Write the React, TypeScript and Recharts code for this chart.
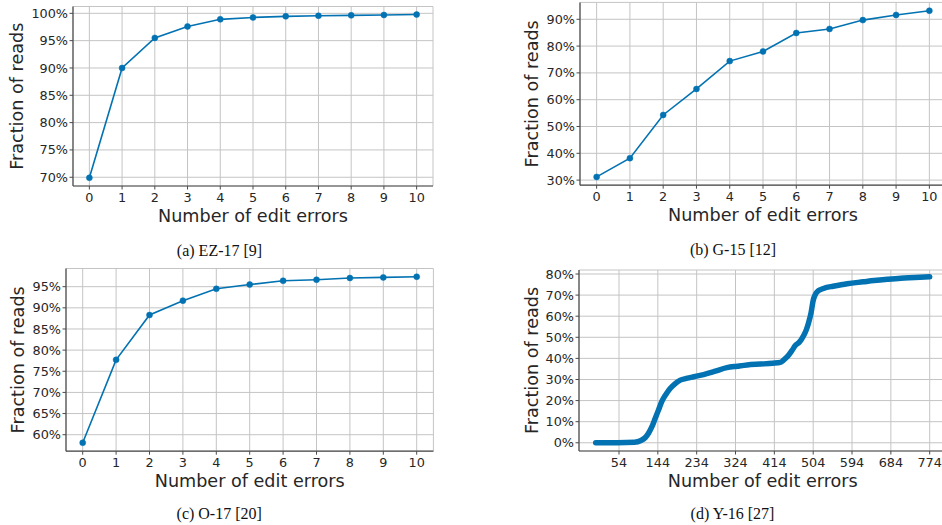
import { LineChart, Line, XAxis, YAxis, CartesianGrid, Label } from 'recharts'

// reads within k edit errors, per dataset (percent)
const editErrors = [0, 1, 2, 3, 4, 5, 6, 7, 8, 9, 10]
const ez17 = [69.9, 90.0, 95.5, 97.6, 98.9, 99.25, 99.45, 99.55, 99.63, 99.7, 99.78]
const g15 = [31.2, 38.2, 54.3, 64.0, 74.4, 78.0, 84.9, 86.4, 89.7, 91.6, 93.2]
const o17 = [58.1, 77.7, 88.3, 91.7, 94.5, 95.5, 96.4, 96.65, 97.05, 97.2, 97.35]

// Y-16 is a long cumulative curve, sampled along its length
const y16Errors = [
  0, 50, 90, 105, 115, 122, 130, 138, 146, 153, 163, 173, 185, 196, 210, 227, 250, 275,
  304, 328, 351, 382, 410, 428, 436, 444, 455, 463, 472, 482, 488, 494, 499, 504, 509,
  514, 522, 533, 550, 583, 620, 645, 676, 707, 740, 774,
]
const y16Fraction = [
  0, 0, 0.2, 1.1, 2.5, 4.4, 7.5, 11.6, 15.8, 19.5, 23.0, 25.8, 28.2, 29.7, 30.5, 31.3, 32.3, 33.8,
  35.6, 36.3, 36.9, 37.3, 37.7, 38.1, 39.3, 40.8, 43.8, 46.2, 47.7, 50.8, 53.5, 57.4, 61.5, 67.5, 70.3,
  71.7, 72.7, 73.5, 74.2, 75.4, 76.3, 76.9, 77.5, 78.0, 78.3, 78.7,
]

const ticksEZ = [70, 75, 80, 85, 90, 95, 100]
const ticksG = [30, 40, 50, 60, 70, 80, 90]
const ticksO = [60, 65, 70, 75, 80, 85, 90, 95]
const ticksY = [0, 10, 20, 30, 40, 50, 60, 70, 80]
const y16XTicks = [54, 144, 234, 324, 414, 504, 594, 684, 774]

const BLUE = '#0272b2'
const INK = '#262626'
const SPINE = '#4a4a4a'
const GRID = '#c4c4c4'
const SANS = '"DejaVu Sans", sans-serif'

type Row = { x: number; y: number }
const zip = (xs: number[], ys: number[]): Row[] => xs.map((x, i) => ({ x, y: ys[i] }))

type PanelProps = {
  rows: Row[]
  left: number; top: number; width: number; height: number
  plot: { l: number; t: number; r: number; b: number } // local plot box
  xDomain: [number, number]; xTicks: number[]
  yDomain: [number, number]; yTicks: number[]
  titleX: number
  thick?: boolean
}

function Panel(p: PanelProps) {
  const tick = { fill: INK, fontSize: 12.8, fontFamily: SANS }
  const yTitle = (props: any) => {
    const vb = props.viewBox
    const cy = vb.y + vb.height / 2
    return (
      <text x={p.titleX} y={cy} transform={`rotate(-90 ${p.titleX} ${cy})`} textAnchor="middle"
        dy="0.36em" fontSize={17.6} fontFamily={SANS} fill={INK}>Fraction of reads</text>
    )
  }
  const xTitle = (props: any) => {
    const vb = props.viewBox
    return (
      <text x={vb.x + vb.width / 2} y={p.plot.b + 35.5} textAnchor="middle"
        fontSize={17.6} fontFamily={SANS} fill={INK}>Number of edit errors</text>
    )
  }
  return (
    <div style={{ position: 'absolute', left: p.left, top: p.top }}>
      <LineChart width={p.width} height={p.height} data={p.rows}
        margin={{ top: p.plot.t, right: p.width - p.plot.r, bottom: 0, left: 0 }}>
        <CartesianGrid stroke={GRID} strokeWidth={1} />
        <XAxis dataKey="x" type="number" domain={p.xDomain} ticks={p.xTicks} interval={0}
          height={p.height - p.plot.b} tick={tick} tickSize={3.5} tickMargin={3.5}
          axisLine={{ stroke: SPINE, strokeWidth: 1.2 }} tickLine={{ stroke: SPINE }}>
          <Label content={xTitle} />
        </XAxis>
        <YAxis type="number" domain={p.yDomain} ticks={p.yTicks} interval={0}
          width={p.plot.l} tick={tick} tickSize={3.5} tickMargin={1.5}
          tickFormatter={(v: number) => `${v}%`}
          axisLine={{ stroke: SPINE, strokeWidth: 1.2 }} tickLine={{ stroke: SPINE }}>
          <Label content={yTitle} />
        </YAxis>
        {p.thick ? (
          <Line dataKey="y" type="monotone" stroke={BLUE} strokeWidth={5.5} strokeLinecap="round"
            dot={false} isAnimationActive={false} />
        ) : (
          <Line dataKey="y" type="linear" stroke={BLUE} strokeWidth={1.6}
            dot={{ r: 3, fill: BLUE, stroke: BLUE, strokeWidth: 0.5 }} isAnimationActive={false} />
        )}
      </LineChart>
    </div>
  )
}

const captions = [
  { x: 219.5, y: 256, text: '(a) EZ-17 [9]' },
  { x: 733, y: 255, text: '(b) G-15 [12]' },
  { x: 219.2, y: 519, text: '(c) O-17 [20]' },
  { x: 732.5, y: 518.5, text: '(d) Y-16 [27]' },
]

export default function App() {
  return (
    <div style={{ position: 'absolute', left: 0, top: 0, width: 942, height: 525, overflow: 'hidden', background: '#fff' }}>
      <Panel rows={zip(editErrors, ez17)} left={0} top={0} width={470} height={260}
        plot={{ l: 73, t: 6.5, r: 433, b: 186 }} xDomain={[-0.5, 10.5]} xTicks={editErrors}
        yDomain={[68.4, 101.25]} yTicks={ticksEZ} titleX={17} />
      <Panel rows={zip(editErrors, g15)} left={470} top={0} width={480} height={260}
        plot={{ l: 110, t: 2.4, r: 476, b: 185.2 }} xDomain={[-0.5, 10.5]} xTicks={editErrors}
        yDomain={[28.1, 96.3]} yTicks={ticksG} titleX={61.7} />
      <Panel rows={zip(editErrors, o17)} left={0} top={260} width={470} height={265}
        plot={{ l: 66, t: 8.5, r: 433.4, b: 191.2 }} xDomain={[-0.5, 10.5]} xTicks={editErrors}
        yDomain={[56.1, 99.3]} yTicks={ticksO} titleX={17.3} />
      <Panel rows={zip(y16Errors, y16Fraction)} left={470} top={260} width={480} height={265}
        plot={{ l: 109, t: 10, r: 476.4, b: 191 }} xDomain={[-38.7, 812.7]} xTicks={y16XTicks}
        yDomain={[-3.9, 81.9]} yTicks={ticksY} titleX={61.7} thick />
      <svg width={942} height={525} style={{ position: 'absolute', left: 0, top: 0, pointerEvents: 'none' }}>
        {captions.map(c => (
          <text key={c.text} x={c.x} y={c.y} textAnchor="middle" fontSize={16}
            fontFamily='"Liberation Serif", serif' fill="#111">{c.text}</text>
        ))}
      </svg>
    </div>
  )
}
